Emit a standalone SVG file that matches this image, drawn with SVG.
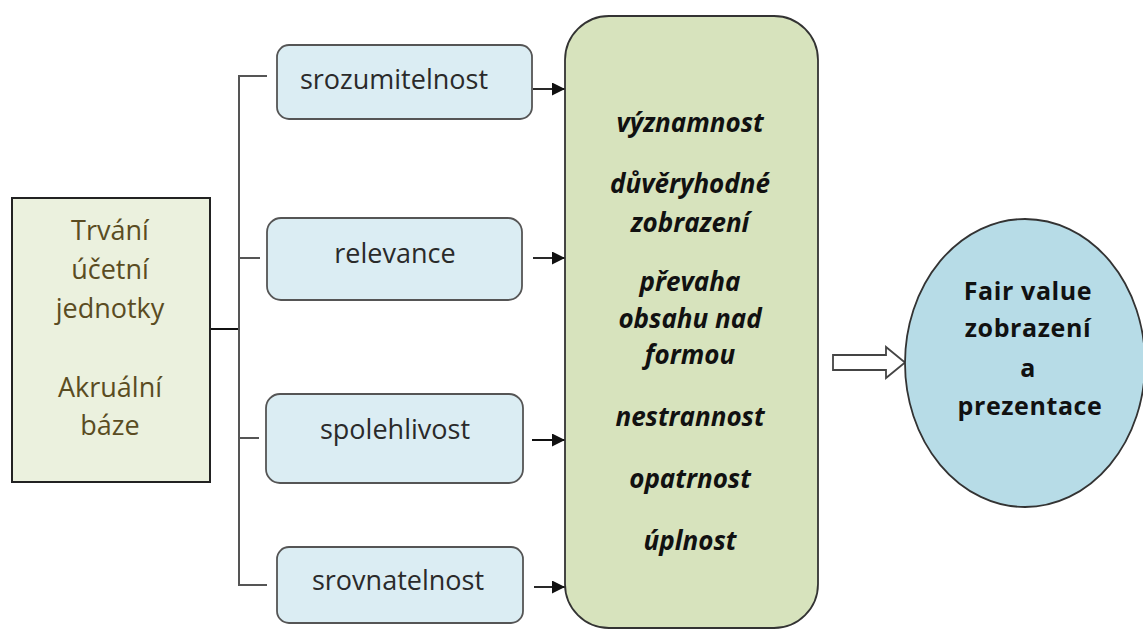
<svg xmlns="http://www.w3.org/2000/svg" width="1143" height="629" viewBox="0 0 1143 629">
<defs>
<marker id="ah" markerWidth="13" markerHeight="13" refX="13" refY="6.5" orient="auto" markerUnits="userSpaceOnUse">
<path d="M0,0 L13,6.5 L0,13 Z" fill="#111"/>
</marker>
<style>
.t{font-family:"Open Sans","Liberation Sans",sans-serif;text-anchor:middle}
.reg{font-size:27px;fill:#2a2a2a}
.left{font-size:27px;fill:#5a4c22}
.mid{font-size:26px;font-weight:bold;font-style:italic;fill:#111}
.ell{font-size:25px;font-weight:bold;fill:#111;letter-spacing:0.6px}
.box{fill:#dbedf3;stroke:#555;stroke-width:1.8}
.ln{stroke:#555;stroke-width:2;fill:none}
.arr{stroke:#111;stroke-width:1.8;fill:none;marker-end:url(#ah)}
</style>
</defs>
<rect width="1143" height="629" fill="#fff"/>
<g id="connectors">
<line x1="210" y1="329" x2="239" y2="329" stroke="#111" stroke-width="2"/>
<polyline class="ln" points="267,76 239,76 239,585 267,585"/>
<line class="ln" x1="239" y1="258" x2="260" y2="258"/>
<line class="ln" x1="239" y1="438" x2="259" y2="438"/>
<line class="arr" x1="533" y1="89" x2="565" y2="89"/>
<line class="arr" x1="533" y1="258" x2="565" y2="258"/>
<line class="arr" x1="532" y1="440" x2="565" y2="440"/>
<line class="arr" x1="534" y1="587" x2="565" y2="587"/>
<path d="M833,355 L886,355 L886,347 L905,362.5 L886,378 L886,370 L833,370 Z" fill="#fff" stroke="#444" stroke-width="1.8"/>
</g>
<g id="base">
<rect x="12" y="198" width="198" height="284" fill="#ebf1de" stroke="#222" stroke-width="2"/>
<text class="t left" x="110" y="240">Trvání</text>
<text class="t left" x="110" y="279">účetní</text>
<text class="t left" x="110" y="318">jednotky</text>
<text class="t left" x="110" y="397">Akruální</text>
<text class="t left" x="110" y="435">báze</text>
</g>
<g id="srozumitelnost">
<rect class="box" x="277" y="45" width="255" height="74" rx="12"/>
<text class="t reg" x="394" y="89">srozumitelnost</text>
</g>
<g id="relevance">
<rect class="box" x="267" y="218" width="255" height="82" rx="14"/>
<text class="t reg" x="395" y="263">relevance</text>
</g>
<g id="spolehlivost">
<rect class="box" x="266" y="394" width="257" height="89" rx="14"/>
<text class="t reg" x="395" y="439">spolehlivost</text>
</g>
<g id="srovnatelnost">
<rect class="box" x="277" y="547" width="246" height="76" rx="12"/>
<text class="t reg" x="398" y="590">srovnatelnost</text>
</g>
<g id="principles">
<rect x="565" y="16" width="253" height="612" rx="44" fill="#d7e3bd" stroke="#333" stroke-width="1.8"/>
<text class="t mid" x="690" y="132">významnost</text>
<text class="t mid" x="690" y="193">důvěryhodné</text>
<text class="t mid" x="690" y="232">zobrazení</text>
<text class="t mid" x="690" y="291">převaha</text>
<text class="t mid" x="690" y="328">obsahu nad</text>
<text class="t mid" x="690" y="364">formou</text>
<text class="t mid" x="690" y="426">nestrannost</text>
<text class="t mid" x="690" y="488">opatrnost</text>
<text class="t mid" x="690" y="550">úplnost</text>
</g>
<g id="fairvalue">
<ellipse cx="1025" cy="363" rx="120" ry="144" fill="#b7dce7" stroke="#333" stroke-width="1.8"/>
<text class="t ell" x="1028" y="300">Fair value</text>
<text class="t ell" x="1028" y="337">zobrazení</text>
<text class="t ell" x="1028" y="377">a</text>
<text class="t ell" x="1030" y="415">prezentace</text>
</g>
</svg>
